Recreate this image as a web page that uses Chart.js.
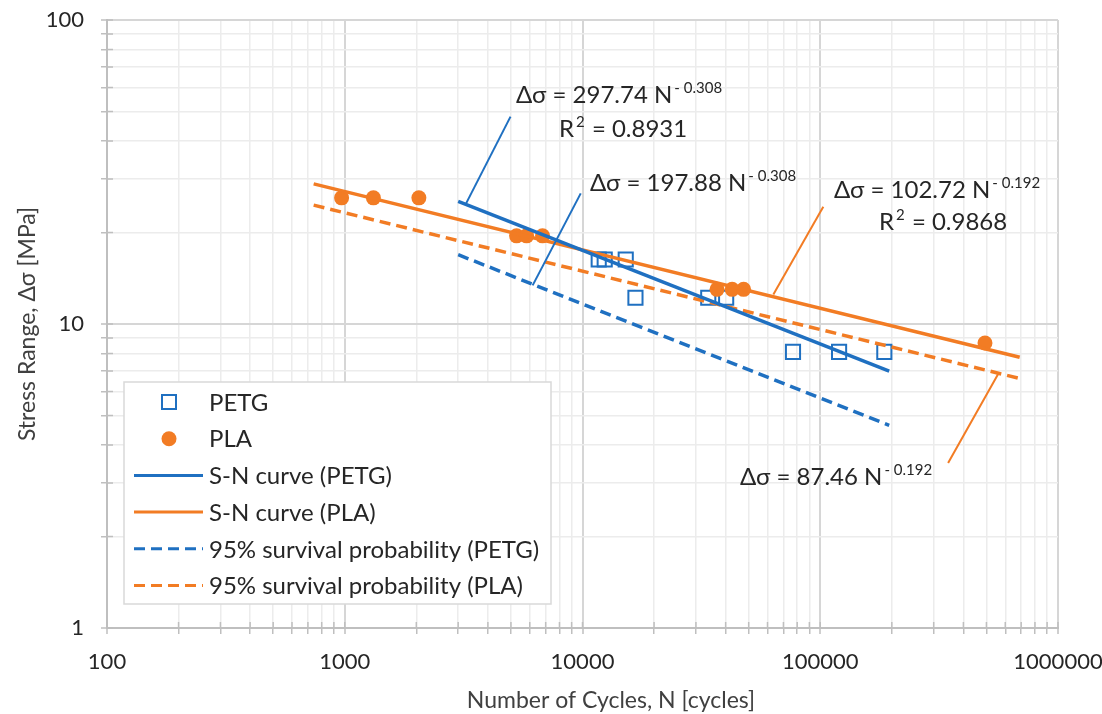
<!DOCTYPE html>
<html>
<head>
<meta charset="utf-8">
<script src="https://cdn.jsdelivr.net/npm/chart.js@4/dist/chart.umd.min.js"></script>
<style>
  html, body { margin: 0; background: #fff; }
  #wrap { width: 1102px; height: 714px; }
</style>
</head>
<body>
<div id="wrap"><canvas id="snChart"></canvas></div>
<script>
// test data
const petgCycles = [11700, 12400, 15200, 16700, 33800, 40200, 76800, 120000, 186000];
const petgStress = [16.3, 16.3, 16.3, 12.2, 12.2, 12.2, 8.1, 8.1, 8.1];
const plaCycles = [970, 1320, 2050, 5280, 5820, 6790, 36800, 42600, 47600, 493000];
const plaStress = [26, 26, 26, 19.5, 19.5, 19.5, 13, 13, 13, 8.66];

// fitted lines, end points
const petgFitCycles = [3000, 195000];
const petgFitStress = [25.3, 7.0];
const petgP95Stress = [16.9, 4.64];
const plaFitCycles = [740, 690000];
const plaFitStress = [28.9, 7.77];
const plaP95Stress = [24.6, 6.62];

// callout lines (label -> curve)
const calloutPetgFit = [[4980, 48.1], [3220, 24.7]];
const calloutPetgP95 = [[9830, 26.9], [6170, 13.4]];
const calloutPlaFit = [[103000, 24.3], [63500, 12.5]];
const calloutPlaP95 = [[560000, 6.85], [345000, 3.49]];

const xTickLabels = [100, 1000, 10000, 100000, 1000000];
const yTickLabels = [1, 10, 100];

const BLUE = '#1f70c1';
const ORANGE = '#f27c24';
const FONT = 'Lato, "Open Sans", sans-serif';

const pts = (xs, ys) => xs.map((x, i) => ({ x: x, y: ys[i] }));
const pairs = arr => arr.map(p => ({ x: p[0], y: p[1] }));

// 1..9 x 10^n between the labelled decades
function logTicks(decades) {
    const out = [];
    for (let i = 0; i < decades.length - 1; i++) {
        for (let k = 1; k < 10; k++) out.push(decades[i] * k);
    }
    out.push(decades[decades.length - 1]);
    return out;
}

function callout(data, color) {
    return {
        type: 'line', data: pairs(data), borderColor: color, borderWidth: 2,
        pointRadius: 0, showLine: true, noLegend: true, order: 1
    };
}

const datasets = [
    {
        label: 'PETG', type: 'scatter', data: pts(petgCycles, petgStress),
        pointStyle: 'rect', pointRadius: 10, pointBorderWidth: 2,
        borderColor: BLUE, backgroundColor: 'rgba(0,0,0,0)', order: 6
    },
    {
        label: 'PLA', type: 'scatter', data: pts(plaCycles, plaStress),
        pointStyle: 'circle', pointRadius: 7.5, pointBorderWidth: 0,
        borderColor: ORANGE, backgroundColor: ORANGE, order: 5
    },
    {
        label: 'S-N curve (PETG)', type: 'line', data: pts(petgFitCycles, petgFitStress),
        borderColor: BLUE, borderWidth: 3.5, pointRadius: 0, order: 2
    },
    {
        label: 'S-N curve (PLA)', type: 'line', data: pts(plaFitCycles, plaFitStress),
        borderColor: ORANGE, borderWidth: 3.5, pointRadius: 0, order: 3
    },
    {
        label: '95% survival probability (PETG)', type: 'line', data: pts(petgFitCycles, petgP95Stress),
        borderColor: BLUE, borderWidth: 3.5, borderDash: [11, 6], pointRadius: 0, order: 4
    },
    {
        label: '95% survival probability (PLA)', type: 'line', data: pts(plaFitCycles, plaP95Stress),
        borderColor: ORANGE, borderWidth: 3.5, borderDash: [11, 6], pointRadius: 0, order: 4
    },
    callout(calloutPetgFit, BLUE),
    callout(calloutPetgP95, BLUE),
    callout(calloutPlaFit, ORANGE),
    callout(calloutPlaP95, ORANGE)
];

// equation labels: [main text, superscript, left, baseline, tail]
const equations = [
    ['\u0394\u03c3 = 297.74 N', '- 0.308', 516, 103],
    ['R', '2', 559, 137, ' = 0.8931'],
    ['\u0394\u03c3 = 197.88 N', '- 0.308', 590, 191],
    ['\u0394\u03c3 = 102.72 N', '- 0.192', 834, 198],
    ['R', '2', 879, 230, ' = 0.9868'],
    ['\u0394\u03c3 = 87.46 N', '- 0.192', 740, 485]
];

const annotationPlugin = {
    id: 'annotations',
    beforeDatasetsDraw(chart) {
        // excel style cross ticks: inner half
        const ctx = chart.ctx;
        const xs = chart.scales.x, ys = chart.scales.y;
        ctx.save();
        ctx.strokeStyle = '#bfbfbf';
        ctx.lineWidth = 1.5;
        ctx.beginPath();
        xs.ticks.forEach(t => {
            const px = xs.getPixelForValue(t.value);
            ctx.moveTo(px, ys.bottom); ctx.lineTo(px, ys.bottom - 6);
        });
        ys.ticks.forEach(t => {
            const py = ys.getPixelForValue(t.value);
            ctx.moveTo(xs.left, py); ctx.lineTo(xs.left + 6, py);
        });
        ctx.stroke();
        ctx.restore();
    },
    afterDraw(chart) {
        const ctx = chart.ctx;
        const ys = chart.scales.y;
        ctx.save();
        ctx.fillStyle = '#262626';
        ctx.textBaseline = 'alphabetic';
        ctx.textAlign = 'left';
        equations.forEach(e => {
            ctx.font = '24px ' + FONT;
            ctx.fillText(e[0], e[2], e[3]);
            const w = ctx.measureText(e[0]).width;
            ctx.font = '15px ' + FONT;
            ctx.fillText(e[1], e[2] + w + 2, e[3] - 10);
            if (e[4]) {
                const w2 = ctx.measureText(e[1]).width;
                ctx.font = '24px ' + FONT;
                ctx.fillText(e[4], e[2] + w + w2 + 3, e[3]);
            }
        });

        // axis titles
        ctx.fillStyle = '#404040';
        ctx.font = '23px ' + FONT;
        ctx.textAlign = 'center';
        ctx.textBaseline = 'middle';
        ctx.fillText('Number of Cycles, N [cycles]', 611, 701);
        ctx.translate(28, (ys.top + ys.bottom) / 2);
        ctx.rotate(-Math.PI / 2);
        ctx.fillText('Stress Range, \u0394\u03c3 [MPa]', 0, 0);
        ctx.restore();

        // legend box inside the plot
        ctx.save();
        ctx.fillStyle = '#ffffff';
        ctx.strokeStyle = '#d9d9d9';
        ctx.lineWidth = 1.5;
        ctx.fillRect(124, 382, 427, 222);
        ctx.strokeRect(124, 382, 427, 222);
        const items = chart.data.datasets.filter(d => !d.noLegend);
        ctx.font = '24px ' + FONT;
        ctx.textBaseline = 'middle';
        ctx.textAlign = 'left';
        items.forEach((d, i) => {
            const cy = 402 + i * 36.7;
            if (d.type === 'scatter') {
                ctx.lineWidth = 2;
                ctx.strokeStyle = d.borderColor;
                ctx.fillStyle = d.backgroundColor;
                if (d.pointStyle === 'rect') {
                    ctx.strokeRect(162, cy - 7, 14, 14);
                } else {
                    ctx.beginPath();
                    ctx.arc(169, cy, 7.5, 0, Math.PI * 2);
                    ctx.fill();
                }
            } else {
                ctx.strokeStyle = d.borderColor;
                ctx.lineWidth = 3;
                ctx.setLineDash(d.borderDash || []);
                ctx.beginPath();
                ctx.moveTo(134, cy); ctx.lineTo(203, cy);
                ctx.stroke();
                ctx.setLineDash([]);
            }
            ctx.fillStyle = '#262626';
            ctx.fillText(d.label, 209, cy + 1);
        });
        ctx.restore();
    }
};

const xTickValues = logTicks(xTickLabels);
const yTickValues = logTicks(yTickLabels);

new Chart(document.getElementById('snChart'), {
    type: 'scatter',
    data: { datasets: datasets },
    options: {
        responsive: true,
        maintainAspectRatio: false,
        animation: false,
        layout: { padding: { left: 0, right: 44, top: 20, bottom: 0 } },
        plugins: {
            legend: { display: false },
            tooltip: { enabled: false }
        },
        scales: {
            x: {
                type: 'logarithmic',
                min: 100,
                max: 1000000,
                afterFit: s => { s.height = 86; s.paddingLeft = 0; s.paddingRight = 0; },
                afterBuildTicks: s => { s.ticks = xTickValues.map(v => ({ value: v, major: xTickLabels.includes(v) })); },
                border: { color: '#bfbfbf', width: 2 },
                grid: {
                    color: c => xTickLabels.includes(c.tick.value) ? '#d6d6d6' : '#ececec',
                    lineWidth: c => xTickLabels.includes(c.tick.value) ? 2 : 1.5,
                    tickColor: '#bfbfbf',
                    tickWidth: 1.5,
                    tickLength: 6
                },
                ticks: {
                    autoSkip: false,
                    maxRotation: 0,
                    padding: 15,
                    color: '#262626',
                    font: { family: FONT, size: 22 },
                    callback: v => xTickLabels.includes(v) ? String(v) : ''
                }
            },
            y: {
                type: 'logarithmic',
                min: 1,
                max: 100,
                afterFit: s => { s.width = 107; s.paddingTop = 0; s.paddingBottom = 0; },
                afterBuildTicks: s => { s.ticks = yTickValues.map(v => ({ value: v, major: yTickLabels.includes(v) })); },
                border: { color: '#bfbfbf', width: 2 },
                grid: {
                    color: c => yTickLabels.includes(c.tick.value) ? '#d6d6d6' : '#ececec',
                    lineWidth: c => yTickLabels.includes(c.tick.value) ? 2 : 1.5,
                    tickColor: '#bfbfbf',
                    tickWidth: 1.5,
                    tickLength: 6
                },
                ticks: {
                    autoSkip: false,
                    padding: 17,
                    color: '#262626',
                    font: { family: FONT, size: 22 },
                    callback: v => yTickLabels.includes(v) ? String(v) : ''
                }
            }
        }
    },
    plugins: [annotationPlugin]
});
</script>
</body>
</html>
